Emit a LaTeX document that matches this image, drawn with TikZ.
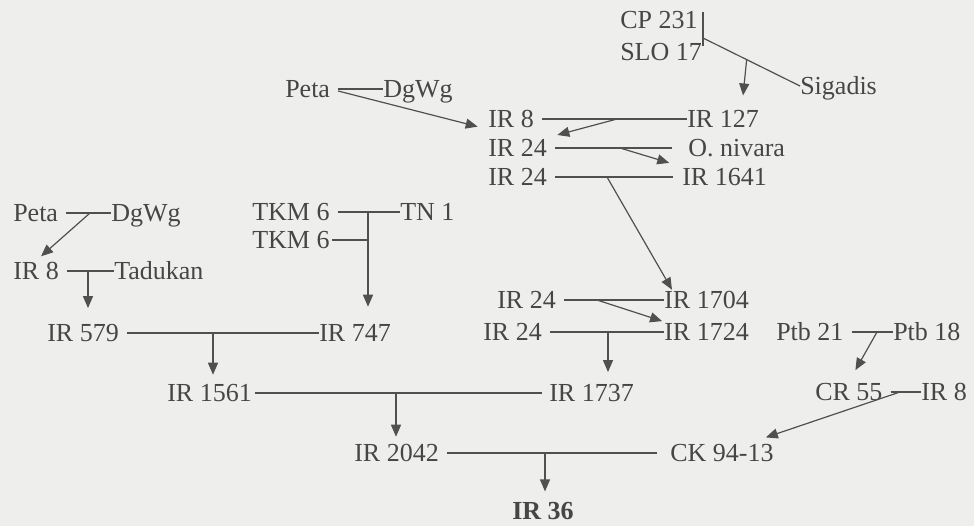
\documentclass[tikz,border=0pt]{standalone}
\usepackage{fontspec}
\setmainfont{Liberation Serif}
\usetikzlibrary{arrows.meta, positioning, calc}
\definecolor{pedpaper}{HTML}{EEEEEC}
\definecolor{pedink}{HTML}{464646}
\definecolor{pedline}{HTML}{505050}

\begin{document}
\begin{tikzpicture}[
    x=0.75pt, y=-0.75pt,
    var/.style={anchor=west, inner sep=0pt, text height=14pt, text depth=1pt,
                text=pedink, font=\fontsize{19.5}{22}\selectfont},
    ln/.style={pedline, line width=0.9pt},
    link/.style={ln, shorten <=6pt},
    arr/.style={ln, -{Triangle[length=9pt, width=7.5pt]}}]
  \path[use as bounding box, fill=pedpaper] (0,0) rectangle (974,526);
  \node[var] (cp) at (620,20) {CP 231};
  \node[var] (slo) at (620,52) {SLO 17};
  \node[var] (sig) at (800,86) {Sigadis};
  \node[var] (petaA) at (285,89) {Peta};
  \node[var] (dgwgA) at (383,89) {DgWg};
  \node[var] (ira) at (488,119) {IR 8};
  \node[var] (irb) at (687,119) {IR 127};
  \node[var] (irc) at (488,148) {IR 24};
  \node[var] (niv) at (688,148) {O. nivara};
  \node[var] (ird) at (488,177) {IR 24};
  \node[var] (ire) at (682,177) {IR 1641};
  \node[var] (petaB) at (13,213) {Peta};
  \node[var] (dgwgB) at (111,213) {DgWg};
  \node[var] (irf) at (13,271) {IR 8};
  \node[var] (tad) at (114,271) {Tadukan};
  \node[var] (tkmA) at (252,212) {TKM 6};
  \node[var] (tn) at (400,212) {TN 1};
  \node[var] (tkmB) at (252,240) {TKM 6};
  \node[var] (ir579) at (47,333) {IR 579};
  \node[var] (ir747) at (319,333) {IR 747};
  \node[var] (irg) at (497,300) {IR 24};
  \node[var] (ir1704) at (664,300) {IR 1704};
  \node[var] (irh) at (483,332) {IR 24};
  \node[var] (ir1724) at (664,332) {IR 1724};
  \node[var] (ptb21) at (776,332) {Ptb 21};
  \node[var] (ptb18) at (893,332) {Ptb 18};
  \node[var] (ir1561) at (167,393) {IR 1561};
  \node[var] (ir1737) at (549,393) {IR 1737};
  \node[var] (cr55) at (815,392) {CR 55};
  \node[var] (iri) at (921,392) {IR 8};
  \node[var] (ir2042) at (354,453) {IR 2042};
  \node[var] (ck) at (670,453) {CK 94-13};
  \node[var, font=\fontsize{19.5}{22}\selectfont\bfseries] (ir36) at (512,511) {IR 36};

  \coordinate (bartop) at (703,12);
  \coordinate (barbot) at (703,46);
  \coordinate (barmid) at (703,38);
  \coordinate (ji) at ($(barmid)!0.45!(sig.west)$);
  \coordinate (ja) at (617,119);
  \coordinate (jk) at (620,148);
  \coordinate (jl) at (607,177);
  \coordinate (jb) at (90,213);
  \coordinate (jc) at (88,271);
  \coordinate (tkmj) at (368,212);
  \coordinate (jd) at (213,333);
  \coordinate (jm) at (597,300);
  \coordinate (je) at (608,332);
  \coordinate (jn) at (877,332);
  \coordinate (jf) at (396,393);
  \coordinate (jg) at (900,392);
  \coordinate (jh) at (545,453);

  \draw[ln] (bartop) -- (barbot);
  \draw[ln] (barmid) -- (sig.west);
  \draw[link] (petaA.east) -- (dgwgA.west);
  \draw[link] (ira.east) -- (irb.west);
  \draw[link, shorten >=12pt] (irc.east) -- (niv.west);
  \draw[link, shorten >=7pt] (ird.east) -- (ire.west);
  \draw[link] (petaB.east) -- (dgwgB.west);
  \draw[link] (irf.east) -- (tad.west);
  \draw[link] (tkmA.east) -- (tn.west);
  \draw[ln, shorten <=2pt] (tkmB.east) -- (tkmj |- tkmB.east);
  \draw[link] (ir579.east) -- (ir747.west);
  \draw[link] (irg.east) -- (ir1704.west);
  \draw[link] (irh.east) -- (ir1724.west);
  \draw[link] (ptb21.east) -- (ptb18.west);
  \draw[ln, shorten <=2pt, shorten >=5pt] (ir1561.east) -- (ir1737.west);
  \draw[link] (cr55.east) -- (iri.west);
  \draw[link, shorten >=10pt] (ir2042.east) -- (ck.west);

  \draw[arr, shorten >=10pt] (ji) -- ([xshift=14pt]irb.north);
  \draw[arr, shorten <=6pt, shorten >=8pt] (petaA.east) -- (ira.south west);
  \draw[arr, shorten >=8pt] (ja) -- (irc.north east);
  \draw[arr, shorten >=10pt] (jk) -- (ire.north west);
  \draw[arr] (jl) -- ([xshift=6pt]ir1704.north west);
  \draw[arr, shorten >=5pt] (jb) -- (irf.north);
  \draw[arr, shorten >=11pt] (jc) -- (jc |- ir579.north);
  \draw[arr, shorten >=12pt] (tkmj) -- (tkmj |- ir747.north);
  \draw[arr, shorten >=6pt] (jd) -- (jd |- ir1561.north);
  \draw[arr, shorten >=1.5pt] (jm) -- (ir1724.north west);
  \draw[arr, shorten >=8pt] (je) -- (je |- ir1737.north);
  \draw[arr, shorten >=10pt] (jn) -- (cr55.north);
  \draw[arr, shorten >=4.5pt] (jf) -- (jf |- ir2042.north);
  \draw[arr] (jg) -- ([shift={(-6pt,4pt)}]ck.north east);
  \draw[arr, shorten >=7pt] (jh) -- (jh |- ir36.north);
\end{tikzpicture}
\end{document}
